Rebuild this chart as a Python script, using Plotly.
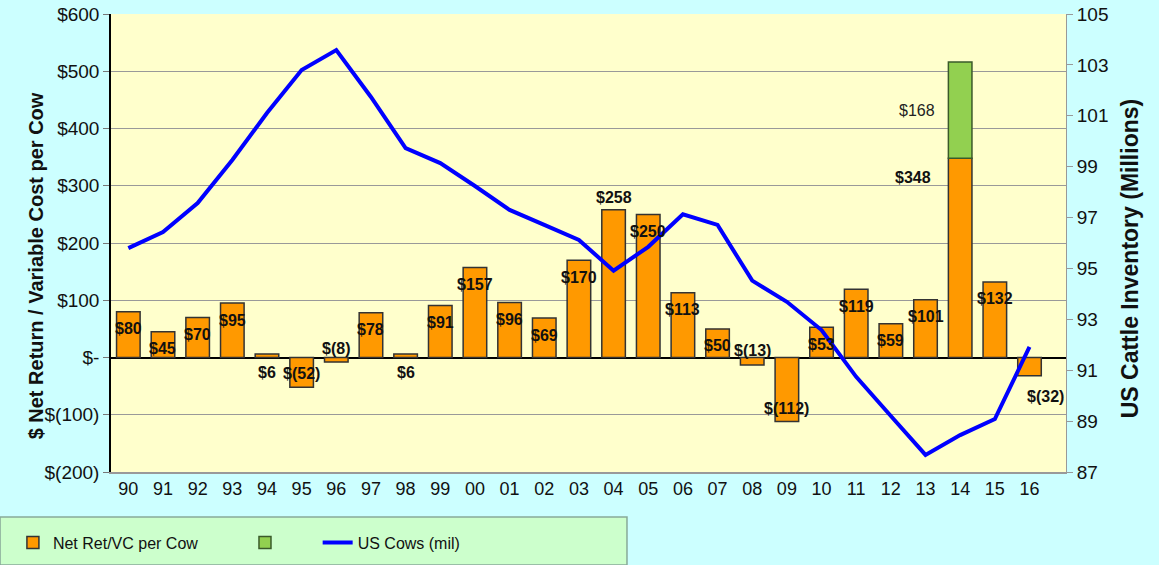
import plotly.graph_objects as go

years = ["90", "91", "92", "93", "94", "95", "96", "97", "98", "99", "00", "01", "02",
         "03", "04", "05", "06", "07", "08", "09", "10", "11", "12", "13", "14", "15", "16"]
net_ret = [80, 45, 70, 95, 6, -52, -8, 78, 6, 91, 157, 96, 69,
           170, 258, 250, 113, 50, -13, -112, 53, 119, 59, 101, 348, 132, -32]
extra_2014 = [None] * 24 + [168, None, None]
us_cows = [95.8, 96.43, 97.57, 99.26, 101.11, 102.8, 103.58, 101.74, 99.73, 99.14, 98.24, 97.3, 96.71,
           96.12, 94.91, 95.85, 97.13, 96.71, 94.52, 93.69, 92.58, 90.74, 89.2, 87.67, 88.45, 89.08, 91.92]

left_ticks = [-200, -100, 0, 100, 200, 300, 400, 500, 600]
left_text = ["$(200)", "$(100)", "$-", "$100", "$200", "$300", "$400", "$500", "$600"]


def money(v):
    if v < 0:
        return "$(%d)" % -v
    return "$%d" % v


# label offsets in px (style only), relative to bar end
label_dy = [-17, -17, -17, -17, -18, 14, 14, -17, -18, -17, -17, -17, -17,
            -17, 12, -17, -17, -17, 14, 13, -17, -17, -17, -17, -19, -17, -21]
label_dx = [0] * 24 + [-47, 0, 16]

FONT = "Liberation Sans, Arial, sans-serif"

fig = go.Figure()
fig.add_trace(go.Bar(x=years, y=net_ret, name="Net Ret/VC per Cow",
                     marker=dict(color="#FF9900", line=dict(color="#333333", width=1.5)),
                     width=0.68, legend="legend"))
fig.add_trace(go.Bar(x=years, y=extra_2014, name=" ",
                     marker=dict(color="#92D050", line=dict(color="#3a5a2a", width=1.5)),
                     width=0.68, legend="legend2"))
fig.add_trace(go.Scatter(x=years, y=us_cows, name="US Cows (mil)", yaxis="y2", mode="lines",
                         line=dict(color="#0000FF", width=4), legend="legend3"))

# bar value labels; x given as category index
for i, v in enumerate(net_ret):
    fig.add_annotation(x=i, y=v, text="<b>" + money(v) + "</b>", showarrow=False,
                       yshift=label_dy[i], xshift=label_dx[i],
                       font=dict(size=16, color="#111111", family=FONT))
fig.add_annotation(x=24, y=net_ret[24] + extra_2014[24] / 2, text=money(extra_2014[24]),
                   showarrow=False, xshift=-43, font=dict(size=16, color="#222222", family=FONT))

# axis titles (placed like the original, a bit below centre)
fig.add_annotation(xref="paper", yref="paper", x=-0.0927, y=0.45, textangle=-90, showarrow=False,
                   text="<b>$ Net Return / Variable Cost per Cow</b>", font=dict(size=20, family=FONT))
fig.add_annotation(xref="paper", yref="paper", x=1.083, y=0.465, textangle=-90, showarrow=False,
                   text="<b>US Cattle Inventory (Millions)</b>", font=dict(size=23, family=FONT))

# legend box
fig.add_shape(type="rect", xref="paper", yref="paper", x0=-0.1162, x1=0.5403, y0=-0.0983, y1=-0.2031,
              fillcolor="#CCFFCC", line=dict(color="#88AA99", width=1.5), layer="below")

leg = dict(orientation="h", y=-0.117, xanchor="left", yanchor="top",
           bgcolor="rgba(0,0,0,0)", font=dict(size=16, family=FONT))

fig.update_layout(
    width=1159, height=565,
    paper_bgcolor="#CCFFFF", plot_bgcolor="#FFFFCC",
    margin=dict(l=111, r=93, t=14, b=93, autoexpand=False),
    barmode="relative", bargap=0.32,
    font=dict(family=FONT, color="#111111"),
    showlegend=True,
    legend=dict(leg, x=-0.1027),
    legend2=dict(leg, x=0.1403),
    legend3=dict(leg, x=0.2164),
    xaxis=dict(type="category", showline=True, linecolor="#999999", linewidth=1.5,
               tickfont=dict(size=18), ticks="", showgrid=False, dtick=1, automargin=False),
    yaxis=dict(range=[-200, 600], tickvals=left_ticks, ticktext=left_text, automargin=False,
               tickfont=dict(size=19), showline=True, linecolor="#000000", linewidth=1.5,
               ticks="outside", ticklen=6, tickcolor="#777777",
               gridcolor="#999999", gridwidth=1, zeroline=True, zerolinecolor="#000000", zerolinewidth=1.5),
    yaxis2=dict(range=[87, 105], dtick=2, tick0=87, overlaying="y", side="right", showgrid=False,
                tickfont=dict(size=19), showline=True, linecolor="#999999", linewidth=1, automargin=False,
                ticks="outside", ticklen=6, tickcolor="#999999", zeroline=False),
)

fig.write_html("out.html", config={"displayModeBar": False},
               post_script="document.body.style.margin='0';"
                           "document.body.style.background='#CCFFFF';")
